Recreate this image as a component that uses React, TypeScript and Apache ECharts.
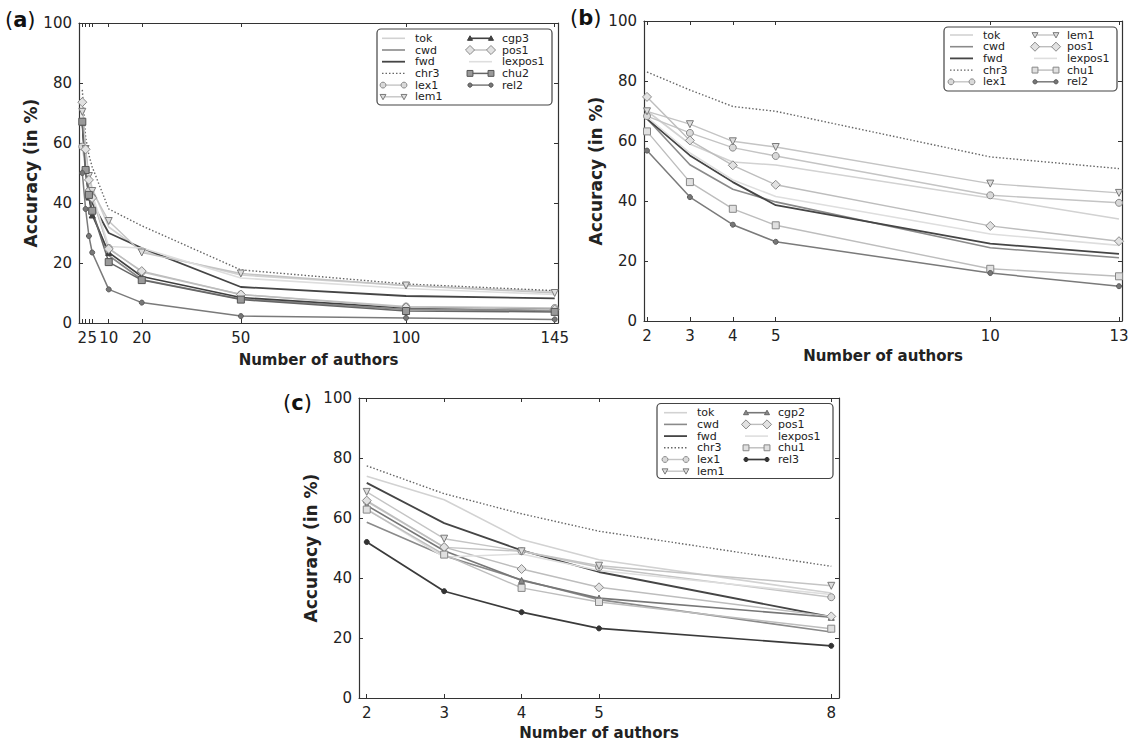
import React, { useEffect, useRef } from "react";
import * as echarts from "echarts";

// ---------- Panel (a) ----------
const xA = [2, 3, 4, 5, 10, 20, 50, 100, 145];
const xATicks = [2, 3, 4, 5, 10, 20, 50, 100, 145];
const xALabels = [2, 5, 10, 20, 50, 100, 145];
const aTok = [71, 57, 49, 45, 32, 24, 16, 12.5, 10.5];
const aCwd = [66, 50, 42, 37, 22.5, 14.5, 8, 4.5, 4];
const aFwd = [68, 52, 45, 40, 30, 25, 12, 9, 8.2];
const aChr3 = [77.7, 62, 56, 52, 38, 32.4, 17.7, 13, 10.8];
const aLex1 = [58.8, 51, 44, 42, 25, 17, 9.5, 5.5, 5];
const aLem1 = [70.4, 58, 49, 44, 34, 23.5, 16.5, 12.5, 10];
const aCgp3 = [67, 51, 42, 36, 23.5, 15.5, 8.5, 5, 4.5];
const aPos1 = [73.6, 57.9, 47.7, 41.7, 24.7, 17.3, 9.5, 5.2, 4.5];
const aLexpos1 = [69, 55, 47, 43, 25.5, 25, 15, 11.5, 9.5];
const aChu2 = [67.1, 51, 42.7, 37.4, 20.3, 14.3, 7.8, 4, 3.7];
const aRel2 = [50, 38, 29, 23.5, 11.2, 6.8, 2.3, 1.7, 1.2];

// ---------- Panel (b) ----------
const xB = [2, 3, 4, 5, 10, 13];
const bTok = [70, 59, 53, 52, 41, 34];
const bCwd = [67.4, 52.1, 43.9, 39.7, 24.4, 21.1];
const bFwd = [67.4, 55.2, 46.3, 38.6, 25.8, 22.4];
const bChr3 = [83, 77, 71.5, 69.9, 54.7, 50.8];
const bLex1 = [68.3, 62.7, 57.8, 55, 41.9, 39.4];
const bLem1 = [69.9, 65.6, 59.9, 58, 45.8, 42.7];
const bPos1 = [74.7, 60.2, 51.9, 45.4, 31.7, 26.6];
const bLexpos1 = [68, 56, 47, 41.5, 29, 25.2];
const bChu1 = [63.2, 46.3, 37.4, 31.9, 17.4, 14.9];
const bRel2 = [56.8, 41.3, 32.1, 26.4, 16, 11.6];

// ---------- Panel (c) ----------
const xC = [2, 3, 4, 5, 8];
const cTok = [73.9, 66.1, 52.8, 46.1, 35];
const cCwd = [58.6, 47.4, 39.4, 32.8, 22];
const cFwd = [71.7, 58.3, 49.2, 42, 27];
const cChr3 = [77.4, 68.1, 61.4, 55.6, 43.9];
const cLex1 = [65.5, 50.2, 48.9, 43.6, 33.6];
const cLem1 = [68.7, 53.1, 48.9, 44.1, 37.4];
const cCgp2 = [64.2, 49.1, 39.2, 33.3, 26.9];
const cPos1 = [65.8, 50.3, 43, 36.9, 27.2];
const cLexpos1 = [63, 47, 48, 42.5, 34.5];
const cChu1 = [62.8, 47.8, 36.7, 32, 23.1];
const cRel3 = [52, 35.6, 28.6, 23.2, 17.4];

const yTicks = [0, 20, 40, 60, 80, 100];

const FONT = "DejaVu Sans";

const STYLE: Record<string, any> = {
  tok: { color: "#d2d2d2", width: 1.6 },
  cwd: { color: "#8a8a8a", width: 1.6 },
  fwd: { color: "#454545", width: 1.8 },
  chr3: { color: "#666666", width: 1.4, dash: [1.5, 2] },
  lex1: { color: "#c4c4c4", width: 1.4, symbol: "circle", size: 7, fill: "#d9d9d9", border: "#8a8a8a" },
  lem1: { color: "#c4c4c4", width: 1.4, symbol: "triangle", rotate: 180, size: 7, fill: "#dddddd", border: "#7a7a7a" },
  cgp3: { color: "#404040", width: 1.6, symbol: "triangle", size: 6, fill: "#404040", border: "#404040" },
  cgp2: { color: "#777777", width: 1.6, symbol: "triangle", size: 6, fill: "#8a8a8a", border: "#666666" },
  pos1: { color: "#bdbdbd", width: 1.4, symbol: "diamond", size: 9, fill: "#e2e2e2", border: "#8a8a8a" },
  lexpos1: { color: "#dedede", width: 1.6 },
  chu2: { color: "#666666", width: 1.5, symbol: "rect", size: 7, fill: "#999999", border: "#555555" },
  chu1: { color: "#bdbdbd", width: 1.4, symbol: "rect", size: 7, fill: "#e0e0e0", border: "#888888" },
  rel2: { color: "#7a7a7a", width: 1.5, symbol: "circle", size: 5, fill: "#777777", border: "#5a5a5a" },
  rel3: { color: "#3a3a3a", width: 1.7, symbol: "circle", size: 5, fill: "#333333", border: "#333333" },
};

const panelA: [string, number[]][] = [
  ["tok", aTok], ["cwd", aCwd], ["fwd", aFwd], ["chr3", aChr3], ["lex1", aLex1], ["lem1", aLem1],
  ["cgp3", aCgp3], ["pos1", aPos1], ["lexpos1", aLexpos1], ["chu2", aChu2], ["rel2", aRel2],
];
const panelB: [string, number[]][] = [
  ["tok", bTok], ["cwd", bCwd], ["fwd", bFwd], ["chr3", bChr3], ["lex1", bLex1],
  ["lem1", bLem1], ["pos1", bPos1], ["lexpos1", bLexpos1], ["chu1", bChu1], ["rel2", bRel2],
];
const panelC: [string, number[]][] = [
  ["tok", cTok], ["cwd", cCwd], ["fwd", cFwd], ["chr3", cChr3], ["lex1", cLex1], ["lem1", cLem1],
  ["cgp2", cCgp2], ["pos1", cPos1], ["lexpos1", cLexpos1], ["chu1", cChu1], ["rel3", cRel3],
];

function mkSeries(name: string, xs: number[], ys: number[], gi: number) {
  const s = STYLE[name];
  const hasSym = !!s.symbol;
  return {
    type: "line",
    name: name + "_" + gi,
    xAxisIndex: gi * 2,
    yAxisIndex: gi * 2,
    data: xs.map((x, i) => [x, ys[i]]),
    symbol: hasSym ? s.symbol : "none",
    showSymbol: hasSym,
    symbolSize: s.size || 0,
    symbolRotate: s.rotate || 0,
    lineStyle: { color: s.color, width: s.width, type: s.dash || "solid" },
    itemStyle: { color: s.fill || s.color, borderColor: s.border || s.color, borderWidth: 1 },
    clip: false,
    emphasis: { disabled: true },
  };
}

function mkAxes(gi: number, min: number, max: number, ticks: number[], labels: number[], nameGapX: number, nameGapY: number) {
  const lineCol = "#333333";
  const xBottom = {
    type: "value", gridIndex: gi, position: "bottom", min, max,
    axisLine: { show: true, onZero: false, lineStyle: { color: lineCol, width: 1.2 } },
    axisTick: { show: true, inside: true, length: 4, customValues: ticks, lineStyle: { color: lineCol } },
    axisLabel: { customValues: labels, margin: 7, fontSize: 15, color: "#222", fontFamily: FONT, hideOverlap: false },
    splitLine: { show: false },
    name: "Number of authors", nameLocation: "middle", nameGap: nameGapX,
    nameTextStyle: { fontWeight: "bold", fontSize: 15, color: "#222", fontFamily: FONT },
  };
  const xTop = {
    type: "value", gridIndex: gi, position: "top", min, max,
    axisLine: { show: true, onZero: false, lineStyle: { color: lineCol, width: 1.2 } },
    axisTick: { show: true, inside: true, length: 4, customValues: ticks, lineStyle: { color: lineCol } },
    axisLabel: { show: false },
    splitLine: { show: false },
  };
  const yLeft = {
    type: "value", gridIndex: gi, position: "left", min: 0, max: 100, interval: 20,
    axisLine: { show: true, onZero: false, lineStyle: { color: lineCol, width: 1.2 } },
    axisTick: { show: true, inside: true, length: 4, customValues: yTicks, lineStyle: { color: lineCol } },
    axisLabel: { margin: 7, fontSize: 15, color: "#222", fontFamily: FONT },
    splitLine: { show: false },
    name: "Accuracy (in %)", nameLocation: "middle", nameGap: nameGapY,
    nameTextStyle: { fontWeight: "bold", fontSize: 17, color: "#222", fontFamily: FONT },
  };
  const yRight = {
    type: "value", gridIndex: gi, position: "right", min: 0, max: 100, interval: 20,
    axisLine: { show: true, onZero: false, lineStyle: { color: lineCol, width: 1.2 } },
    axisTick: { show: true, inside: true, length: 4, lineStyle: { color: lineCol } },
    axisLabel: { show: false },
    splitLine: { show: false },
  };
  return { x: [xBottom, xTop], y: [yLeft, yRight] };
}

function markerEl(s: any, cx: number, cy: number): any {
  const r = (s.size || 6) * 0.42;
  const style = { fill: s.fill, stroke: s.border, lineWidth: 1 };
  if (s.symbol === "circle") return { type: "circle", shape: { cx, cy, r }, style, z: 102 };
  if (s.symbol === "rect") return { type: "rect", shape: { x: cx - r, y: cy - r, width: 2 * r, height: 2 * r }, style, z: 102 };
  if (s.symbol === "diamond")
    return { type: "polygon", shape: { points: [[cx, cy - r * 1.2], [cx + r * 1.2, cy], [cx, cy + r * 1.2], [cx - r * 1.2, cy]] }, style, z: 102 };
  if (s.symbol === "triangle") {
    const d = s.rotate ? 1 : -1;
    return {
      type: "polygon",
      shape: { points: [[cx - r, cy - d * r * 0.8], [cx + r, cy - d * r * 0.8], [cx, cy + d * r]] },
      style, z: 102,
    };
  }
  return null;
}

// manual matplotlib-like legend
function mkLegend(names: string[], box: number[], textX: number[], firstRowY: number, rows: number) {
  const rowH = 11.7;
  const els: any[] = [
    {
      type: "rect",
      shape: { x: box[0], y: box[1], width: box[2], height: box[3], r: 4 },
      style: { fill: "#ffffff", stroke: "#444444", lineWidth: 1.2 },
      z: 100,
    },
  ];
  names.forEach((n, i) => {
    const col = Math.floor(i / rows);
    const row = i % rows;
    const y = firstRowY + row * rowH;
    const tx = textX[col];
    const x1 = tx - 33;
    const x2 = tx - 10;
    const s = STYLE[n];
    els.push({
      type: "line",
      shape: { x1, y1: y, x2, y2: y },
      style: { stroke: s.color, lineWidth: s.width, lineDash: s.dash || null },
      z: 101,
    });
    if (s.symbol) {
      const m1 = markerEl(s, x1 + 1, y);
      const m2 = markerEl(s, x2 - 1, y);
      if (m1) els.push(m1);
      if (m2) els.push(m2);
    }
    els.push({
      type: "text",
      x: tx,
      y,
      style: { text: n, fontSize: 11, lineHeight: 11, fontFamily: FONT, fill: "#222", verticalAlign: "middle", align: "left" },
      z: 103,
    });
  });
  return els;
}

function panelLabel(letter: string, x: number, y: number) {
  return {
    type: "text", x, y,
    style: {
      text: "{n|(}{b|" + letter + "}{n|)}",
      rich: {
        n: { fontSize: 21, fontFamily: FONT, fill: "#111" },
        b: { fontSize: 21, fontFamily: FONT, fontWeight: "bold", fill: "#111" },
      },
    },
  };
}

export default function App() {
  const ref = useRef<HTMLDivElement>(null);
  useEffect(() => {
    if (!ref.current) return;
    const chart = echarts.init(ref.current, null, { renderer: "svg" });
    const axA = mkAxes(0, 1, 146, xATicks, xALabels, 29, 31);
    const axB = mkAxes(1, 1.93, 13.07, xB, xB, 27, 31);
    const axC = mkAxes(2, 1.9, 8.1, xC, xC, 27, 31);
    const series = [
      ...panelA.map(([n, v]) => mkSeries(n, xA, v, 0)),
      ...panelB.map(([n, v]) => mkSeries(n, xB, v, 1)),
      ...panelC.map(([n, v]) => mkSeries(n, xC, v, 2)),
    ];
    chart.setOption({
      animation: false,
      backgroundColor: "#ffffff",
      textStyle: { fontFamily: FONT },
      grid: [
        { left: 79, top: 23, width: 479, height: 300 },
        { left: 644, top: 21, width: 478, height: 300 },
        { left: 359, top: 398, width: 480, height: 300 },
      ],
      xAxis: [...axA.x, ...axB.x, ...axC.x],
      yAxis: [...axA.y, ...axB.y, ...axC.y],
      graphic: [
        panelLabel("a", 5, 9),
        panelLabel("b", 570, 7),
        panelLabel("c", 283, 392),
        ...mkLegend(panelA.map((p) => p[0]), [377, 29, 175, 76], [415, 502], 38.3, 6),
        ...mkLegend(panelB.map((p) => p[0]), [944, 27, 173, 64], [983, 1067], 35, 5),
        ...mkLegend(panelC.map((p) => p[0]), [657, 403.5, 176, 75], [697, 778], 412.7, 6),
      ],
      series,
    });
    return () => chart.dispose();
  }, []);
  return (
    <div
      ref={ref}
      style={{ position: "absolute", left: 0, top: 0, width: 1134, height: 742 }}
    />
  );
}
